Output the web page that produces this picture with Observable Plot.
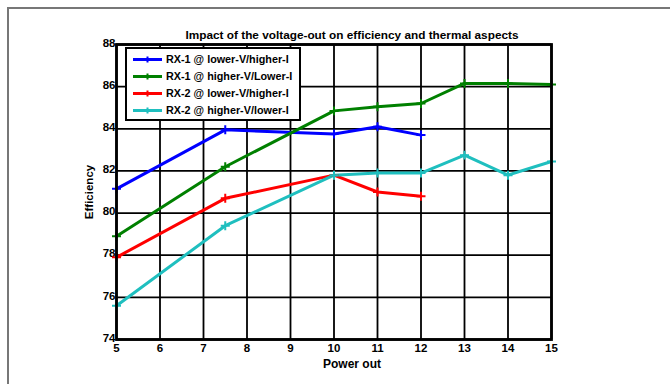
<!DOCTYPE html>
<html>
<head>
<meta charset="utf-8">
<script src="https://cdn.jsdelivr.net/npm/d3@7"></script>
<script src="https://cdn.jsdelivr.net/npm/@observablehq/plot@0.6"></script>
<style>
  html, body { margin: 0; padding: 0; background: #fff; }
  #wrap { position: relative; width: 670px; height: 384px; overflow: hidden; }
  #border { position: absolute; left: 7px; top: 7px; right: -10px; bottom: -10px; border-left: 2px solid #777; border-top: 2px solid #777; pointer-events: none; z-index: 2; }
  svg { display: block; }
</style>
</head>
<body>
<div id="wrap"><div id="border"></div></div>
<script>
const seriesNames = ["RX-1 @ lower-V/higher-I", "RX-1 @ higher-V/Lower-I", "RX-2 @ lower-V/higher-I", "RX-2 @ higher-V/lower-I"];
const seriesColors = ["#0000ff", "#008000", "#ff0000", "#1fbfbf"];

const powerRX1Low = [5, 7.5, 10, 11, 12];
const effRX1Low = [81.15, 83.95, 83.75, 84.1, 83.7];

const powerRX1High = [5, 7.5, 10, 11, 12, 13, 14, 15];
const effRX1High = [78.9, 82.2, 84.85, 85.05, 85.2, 86.15, 86.15, 86.1];

const powerRX2Low = [5, 7.5, 10, 11, 12];
const effRX2Low = [77.9, 80.7, 81.8, 81.0, 80.8];

const powerRX2High = [5, 7.5, 10, 11, 12, 13, 14, 15];
const effRX2High = [75.6, 79.4, 81.8, 81.9, 81.9, 82.75, 81.8, 82.45];

const xTicks = [5, 6, 7, 8, 9, 10, 11, 12, 13, 14, 15];
const yTicks = [74, 76, 78, 80, 82, 84, 86, 88];

const titleText = "Impact of the voltage-out on efficiency and thermal aspects";
const xLabel = "Power out";
const yLabel = "Efficiency";

const groups = [
  [powerRX1Low, effRX1Low],
  [powerRX1High, effRX1High],
  [powerRX2Low, effRX2Low],
  [powerRX2High, effRX2High]
];
const data = [];
groups.forEach(([xs, ys], i) => xs.forEach((x, j) => data.push({series: seriesNames[i], x, y: ys[j]})));

const font = "'Liberation Sans', Arial, sans-serif";

const plot = Plot.plot({
  width: 670,
  height: 384,
  marginLeft: 116,
  marginRight: 119,
  marginTop: 44,
  marginBottom: 45,
  style: {fontFamily: font, fontWeight: "bold", fontSize: "11.5px", background: "transparent", overflow: "visible"},
  x: {domain: [5, 15], ticks: xTicks},
  y: {domain: [74, 88], ticks: yTicks},
  color: {domain: seriesNames, range: seriesColors},
  marks: [
    Plot.gridX(xTicks, {stroke: "#000", strokeOpacity: 1, strokeWidth: 1.8}),
    Plot.gridY(yTicks, {stroke: "#000", strokeOpacity: 1, strokeWidth: 1.8}),
    Plot.axisX(xTicks, {tickSize: 0, tickPadding: 4, fill: "#000", label: null, fontSize: 11.5}),
    Plot.axisY(yTicks, {tickSize: 0, tickPadding: 1, dy: -1.5, fill: "#000", label: null, fontSize: 11.5}),
    Plot.line(data, {x: "x", y: "y", stroke: "series", z: "series", strokeWidth: 3}),
    Plot.dot(data, {x: "x", y: "y", stroke: "series", symbol: "plus", r: 3, strokeWidth: 2}),
    Plot.frame({stroke: "#000", strokeWidth: 2.8}),
    Plot.text([titleText], {frameAnchor: "top", dx: 18, dy: -14, fontSize: 11.8, fontWeight: "bold", fill: "#000"}),
    Plot.text([xLabel], {frameAnchor: "bottom", lineAnchor: "middle", dx: 18, dy: 25, fontSize: 12, fontWeight: "bold", fill: "#000"}),
    Plot.text([yLabel], {frameAnchor: "left", textAnchor: "middle", lineAnchor: "middle", dx: -27, rotate: -90, fontSize: 11.5, fontWeight: "bold", fill: "#000"})
  ]
});

document.getElementById("wrap").appendChild(plot);

// legend
const svg = d3.select(plot);
const lg = svg.append("g").attr("transform", "translate(126,48)").attr("text-anchor", "start");
lg.append("rect").attr("x", 0).attr("y", 0).attr("width", 174).attr("height", 72)
  .attr("fill", "#fff").attr("stroke", "#000").attr("stroke-width", 2);
seriesNames.forEach((name, i) => {
  const cy = 11.5 + i * 17;
  lg.append("line").attr("x1", 7).attr("x2", 36).attr("y1", cy).attr("y2", cy)
    .attr("stroke", seriesColors[i]).attr("stroke-width", 3);
  lg.append("path").attr("d", `M${21.5 - 3},${cy}h6M21.5,${cy - 3}v6`)
    .attr("stroke", seriesColors[i]).attr("stroke-width", 2);
  lg.append("text").attr("x", 40).attr("y", cy).attr("dy", "0.35em")
    .attr("text-anchor", "start")
    .attr("font-size", 10.8).attr("font-weight", "bold").attr("font-family", font)
    .attr("fill", "#000").text(name);
});
</script>
</body>
</html>
